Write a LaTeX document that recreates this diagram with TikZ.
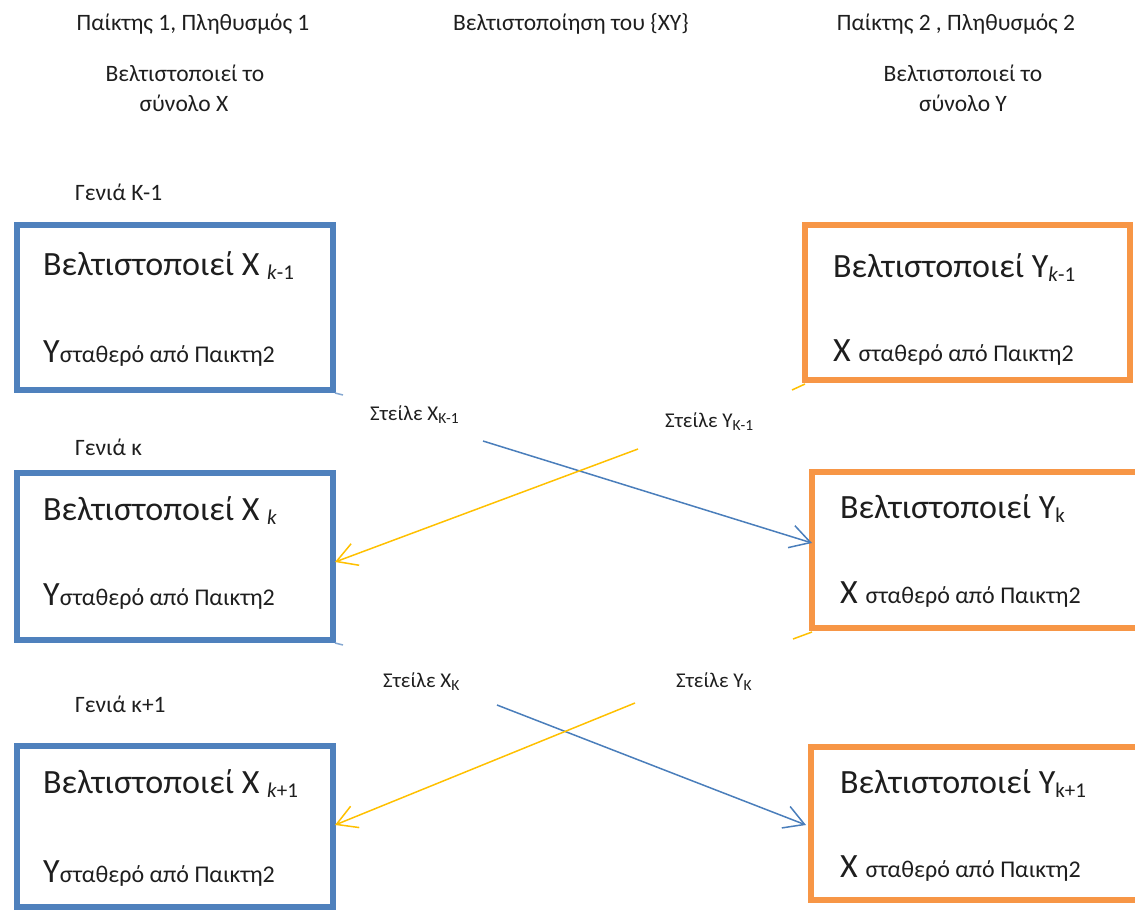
\documentclass[tikz,border=0pt]{standalone}
\usepackage{fontspec}
\setmainfont{Carlito}
\usetikzlibrary{arrows.meta,calc}
\definecolor{boxblue}{HTML}{4F81BD}
\definecolor{boxorange}{HTML}{F79646}
\definecolor{sendyellow}{HTML}{FFC000}
\definecolor{sendblue}{HTML}{4A7EBB}
\definecolor{ink}{HTML}{1E1E1E}
\newcommand{\bigtxt}{\fontsize{34}{40}\selectfont}
\newcommand{\midtxt}{\fontsize{24}{28}\selectfont}
\newcommand{\subtxt}[1]{{\fontsize{21}{24}\selectfont\raisebox{-4pt}{#1}}}
\newcommand{\lblsub}[1]{{\fontsize{15.5}{18}\selectfont\raisebox{-3pt}{#1}}}
\tikzset{
  genbox/.style={draw, rectangle, line width=6pt, inner sep=0pt, outer sep=0pt,
    anchor=north west},
  bluebox/.style={genbox, draw=boxblue},
  orangebox/.style={genbox, draw=boxorange},
  boxline/.style={anchor=base west, inner sep=0pt, text=ink, font=\bigtxt},
  headtxt/.style={anchor=base, inner sep=0pt, text=ink, font=\fontsize{23.5}{28}\selectfont, align=center},
  gentxt/.style={anchor=base west, inner sep=0pt, text=ink, font=\fontsize{23.5}{28}\selectfont},
  sendtxt/.style={anchor=base west, inner sep=0pt, text=ink, font=\fontsize{21}{25}\selectfont},
  sendarrow/.style={line width=1.5pt, -{Straight Barb[length=20pt,width=23pt,line width=1.5pt]}},
  tick/.style={line width=1.5pt}
}
\begin{document}
\begin{tikzpicture}[x=1pt,y=-1pt]
\useasboundingbox (0,0) rectangle (1135,911);
\clip (0,0) rectangle (1135,911);

% column headings
\node[headtxt] (h1) at (193,30) {Παίκτης 1, Πληθυσμός 1};
\node[headtxt] (h2) at (571,30) {Βελτιστοποίηση του \{XY\}};
\node[headtxt] (h3) at (956,30) {Παίκτης 2 , Πληθυσμός 2};
\node[headtxt] (h1a) at (185,81) {Βελτιστοποιεί το};
\node[headtxt] (h1b) at (184,111) {σύνολο X};
\node[headtxt] (h3a) at (963,81) {Βελτιστοποιεί το};
\node[headtxt] (h3b) at (963,111) {σύνολο Y};

% generation labels
\node[gentxt] (g1) at (75,200) {Γενιά Κ-1};
\node[gentxt] (g2) at (75,455) {Γενιά κ};
\node[gentxt] (g3) at (75,712) {Γενιά κ+1};

% player 1 boxes
\node[bluebox, minimum width=316pt, minimum height=165pt] (L1) at (17,225) {};
\node[bluebox, minimum width=316pt, minimum height=167pt] (L2) at (17,473) {};
\node[bluebox, minimum width=316pt, minimum height=161pt] (L3) at (17,746) {};

% player 2 boxes
\node[orangebox, minimum width=325pt, minimum height=155pt] (R1) at (805,225) {};
\node[orangebox, minimum width=330pt, minimum height=156pt] (R2) at (812,472) {};
\node[orangebox, minimum width=330pt, minimum height=153pt] (R3) at (811,747) {};

% texts in the player 1 boxes
\node[boxline] (L1a) at (43,275) {Βελτιστοποιεί X \subtxt{\textit{k}-1}};
\node[boxline] (L1b) at (43,362) {Y{\midtxt σταθερό από Παικτη2}};
\node[boxline] (L2a) at (43,520) {Βελτιστοποιεί X \subtxt{\textit{k}}};
\node[boxline] (L2b) at (43,605) {Y{\midtxt σταθερό από Παικτη2}};
\node[boxline] (L3a) at (43,793) {Βελτιστοποιεί X \subtxt{\textit{k}+1}};
\node[boxline] (L3b) at (43,882) {Y{\midtxt σταθερό από Παικτη2}};

% texts in the player 2 boxes
\node[boxline] (R1a) at (833,277) {Βελτιστοποιεί Y\subtxt{\textit{k}-1}};
\node[boxline] (R1b) at (833,361) {X {\midtxt σταθερό από Παικτη2}};
\node[boxline] (R2a) at (840,518) {Βελτιστοποιεί Y\subtxt{k}};
\node[boxline] (R2b) at (840,603) {X {\midtxt σταθερό από Παικτη2}};
\node[boxline] (R3a) at (840,793) {Βελτιστοποιεί Y\subtxt{k+1}};
\node[boxline] (R3b) at (840,877) {X {\midtxt σταθερό από Παικτη2}};

% exchange labels
\node[sendtxt] (s1) at (370,420) {Στείλε X\lblsub{K-1}};
\node[sendtxt] (s2) at (665,427) {Στείλε Y\lblsub{K-1}};
\node[sendtxt] (s3) at (383,687) {Στείλε X\lblsub{K}};
\node[sendtxt] (s4) at (676,687) {Στείλε Y\lblsub{K}};

% start points of the exchanges
\coordinate (sx1) at (483,441);
\coordinate (sy1) at (638,449);
\coordinate (sx2) at (497,705);
\coordinate (sy2) at (635,703);

% exchanges between the populations
\draw[sendarrow, sendblue] (sx1) -- ($(R2.north west)+(0,71)$);
\draw[sendarrow, sendyellow] (sy1) -- ($(L2.north east)+(2,89)$);
\draw[sendarrow, sendblue] (sx2) -- ($(R3.north west)+(-5,78)$);
\draw[sendarrow, sendyellow] (sy2) -- ($(L3.north east)+(2,79)$);

% short stubs at the box corners
\draw[tick, sendyellow] ($(R1.south west)+(0,4)$) -- ++(-13,6);
\draw[tick, sendyellow] ($(R2.south west)+(0,4)$) -- ++(-19,7);
\draw[tick, boxblue!70] ($(L1.south east)+(2,3)$) -- ++(8,2);
\draw[tick, boxblue!70] ($(L2.south east)+(2,3)$) -- ++(8,2);
\end{tikzpicture}
\end{document}
